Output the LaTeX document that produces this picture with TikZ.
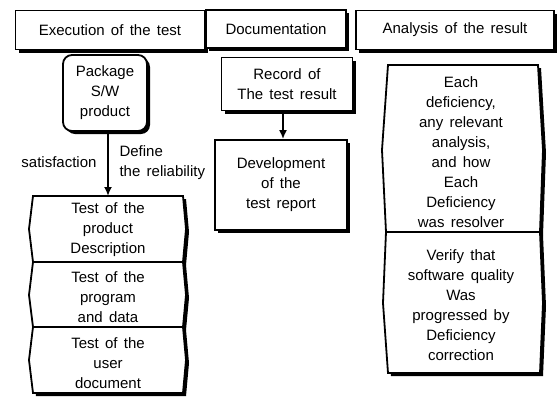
\documentclass[tikz,border=0pt]{standalone}
\usepackage{fontspec}
\setmainfont{Liberation Sans}
\usepackage{xcolor}
\usetikzlibrary{arrows.meta,shadows}
\tikzset{
  txt/.style={align=center, font={\fontsize{15}{20}\selectfont\spaceskip=.42em\relax}},
  shadowed/.style={drop shadow={fill=black, opacity=1, shadow xshift=3pt, shadow yshift=-3pt}},
  box/.style={txt, draw, line width=1.8pt, fill=white, shadowed, inner sep=0pt},
  pointy/.style={draw, line width=1.8pt, fill=white, shadowed},
}

\begin{document}
\begin{tikzpicture}[x=1pt, y=-1pt, >={Latex[length=9pt,width=8pt]}]
\useasboundingbox (0,0) rectangle (558,397);
% headings
\node[box, minimum width=189pt, minimum height=39pt] (exec) at (110,30) {Execution of the test};
\node[box, minimum width=140pt, minimum height=38pt] (docu) at (276,29) {Documentation};
\node[box, minimum width=198pt, minimum height=39pt] (anal) at (455,30) {Analysis of the result};
%
\node[box, rounded corners=9pt, minimum width=84pt, minimum height=76pt] (pkg) at (105,93) {Package\\S/W\\product};
\coordinate (top) at (108,196);
\draw[line width=1.8pt, ->] (pkg.south -| top) -- (top);
\node[txt, anchor=east] (sat) at (100,162) {satisfaction};
\node[txt, anchor=west, align=left] (def) at (116,163) {Define\\the reliability};
%
\filldraw[pointy] (33,196) -- (183,196) -- (186,229) -- (183,262) -- (33,262) -- (29,229) -- cycle;
\filldraw[pointy] (33,262) -- (183,262) -- (186,295) -- (183,327) -- (33,327) -- (29,295) -- cycle;
\filldraw[pointy] (33,327) -- (183,327) -- (186,360) -- (183,393) -- (33,393) -- (29,360) -- cycle;
\node[txt] (tdesc) at (108,230) {Test of the\\product\\Description};
\node[txt] (tprog) at (108,297) {Test of the\\program\\and data};
\node[txt] (tuser) at (108,363) {Test of the\\user\\document};
%
\node[box, minimum width=131pt, minimum height=53pt] (rec) at (287,84) {Record of\\The test result};
\node[box, minimum width=132pt, minimum height=90pt] (dev) at (281,185) {Development\\of the\\test report};
\coordinate (mid) at (283,0);
\draw[line width=1.8pt, ->] (rec.south -| mid) -- (dev.north -| mid);
%
\filldraw[pointy] (388,65) -- (538,65) -- (543,150) -- (540,232) -- (386,232) -- (382,150) -- cycle;
\filldraw[pointy] (386,232) -- (540,232) -- (543,303) -- (540,373) -- (388,373) -- (383,303) -- cycle;
\node[txt] (each) at (461,152) {Each\\deficiency,\\any relevant\\analysis,\\and how\\Each\\Deficiency\\was resolver};
\node[txt] (verify) at (461,305) {Verify that\\software quality\\Was\\progressed by\\Deficiency\\correction};
\end{tikzpicture}
\end{document}
